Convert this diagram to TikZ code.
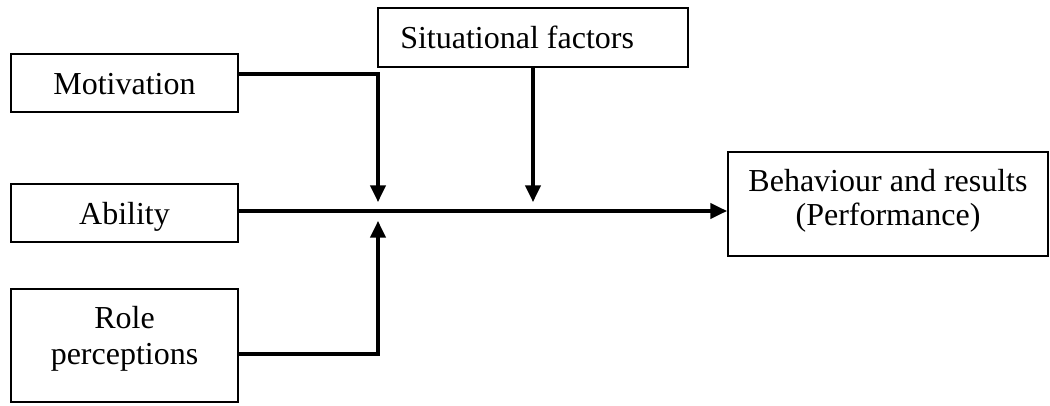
\documentclass[tikz,border=0pt]{standalone}
\usepackage{fontspec}
\setmainfont{Liberation Serif}
\usetikzlibrary{arrows.meta,calc}
\begin{document}
\begin{tikzpicture}[x=0.75pt,y=-0.75pt,
  box/.style={draw, line width=1.5pt, inner sep=0pt, rectangle},
  txt/.style={inner sep=0pt, font=\fontsize{24pt}{27pt}\selectfont},
  conn/.style={line width=2.4pt, -{Triangle[length=12.5pt,width=11.5pt]}},
  wire/.style={line width=2.4pt}]
\useasboundingbox (0,0) rectangle (1050,406);
% boxes
\node[box, minimum width=170.25pt, minimum height=43.5pt] (mot) at (124.5,83.5) {};
\node[box, minimum width=170.25pt, minimum height=43.5pt] (abi) at (124.5,213) {};
\node[box, minimum width=170.25pt, minimum height=84.75pt] (rol) at (124.5,345.5) {};
\node[box, minimum width=232.5pt, minimum height=44.25pt] (sit) at (533,37.5) {};
\node[box, minimum width=240pt, minimum height=78pt] (beh) at (888,204) {};
% texts
\node[txt, anchor=base] (motT) at (124.5,95) {Motivation};
\node[txt, anchor=base] (abiT) at (124.5,224) {Ability};
\node[txt, anchor=base] (rolT1) at (124.5,328) {Role};
\node[txt, anchor=base] (rolT2) at (124.5,364) {perceptions};
\node[txt, anchor=base west] (sitT) at (400,49) {Situational factors};
\node[txt, anchor=base] (behT1) at (888,192) {Behaviour and results};
\node[txt, anchor=base] (behT2) at (888,226) {(Performance)};
% junction
\coordinate (j) at (378,211);
% connectors
\draw[conn] ($(mot.east)+(0,-9.5)$) -| ($(j)+(0,-9)$);
\draw[conn] (abi.east |- j) -- (beh.west |- j);
\draw[conn] ($(rol.east)+(0,8.5)$) -| ($(j)+(0,10)$);
\draw[conn] (sit.south) -- ($(sit.south |- j)+(0,-9)$);
\end{tikzpicture}
\end{document}
